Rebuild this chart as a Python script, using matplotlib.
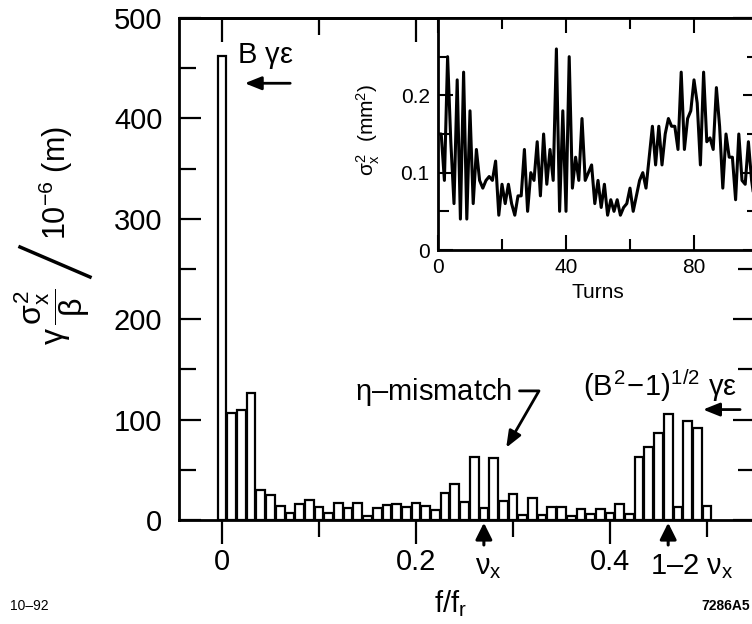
import matplotlib
matplotlib.use("Agg")
import matplotlib.pyplot as plt
from matplotlib.lines import Line2D

plt.rcParams['font.family'] = ['Liberation Sans', 'DejaVu Sans']
plt.rcParams['mathtext.fontset'] = 'custom'
plt.rcParams['mathtext.rm'] = 'Liberation Sans'
plt.rcParams['mathtext.it'] = 'Liberation Sans'
plt.rcParams['mathtext.bf'] = 'Liberation Sans:bold'

# spectrum bins (f/f_r) and heights
freq = [0.00, 0.01, 0.02, 0.03, 0.04, 0.05, 0.06, 0.07, 0.08, 0.09,
        0.10, 0.11, 0.12, 0.13, 0.14, 0.15, 0.16, 0.17, 0.18, 0.19,
        0.20, 0.21, 0.22, 0.23, 0.24, 0.25, 0.26, 0.27, 0.28, 0.29,
        0.30, 0.31, 0.32, 0.33, 0.34, 0.35, 0.36, 0.37, 0.38, 0.39,
        0.40, 0.41, 0.42, 0.43, 0.44, 0.45, 0.46, 0.47, 0.48, 0.49,
        0.50]
power = [462, 107, 110, 126, 30, 25, 14, 7, 16, 20,
         13, 7, 17, 12, 17, 4, 12, 15, 16, 13,
         17, 14, 10, 27, 36, 18, 63, 12, 62, 19,
         26, 5, 22, 5, 13, 13, 4, 11, 6, 11,
         7, 16, 6, 63, 73, 87, 106, 13, 99, 92,
         14]

nu_x = 0.27
one_minus_2nu = 0.46

x_ticks = [0, 0.2, 0.4]
x_ticklabels = ['0', '0.2', '0.4']
x_minor = [0.1, 0.3, 0.5]
y_ticks = [0, 100, 200, 300, 400, 500]
y_minor = [50, 150, 250, 350, 450]

# inset: beam size squared vs turn
turns = list(range(100))
sigma2 = [0.15, 0.15, 0.09, 0.25, 0.14, 0.06, 0.22, 0.04, 0.23, 0.04,
          0.18, 0.06, 0.13, 0.09, 0.08, 0.09, 0.095, 0.09, 0.115, 0.045,
          0.085, 0.06, 0.085, 0.06, 0.045, 0.07, 0.07, 0.13, 0.05, 0.10,
          0.09, 0.14, 0.07, 0.15, 0.085, 0.13, 0.09, 0.26, 0.05, 0.18,
          0.05, 0.25, 0.08, 0.12, 0.09, 0.17, 0.09, 0.10, 0.11, 0.06,
          0.09, 0.055, 0.085, 0.045, 0.065, 0.05, 0.065, 0.045, 0.055, 0.06,
          0.08, 0.05, 0.07, 0.09, 0.10, 0.08, 0.12, 0.16, 0.11, 0.16,
          0.11, 0.15, 0.17, 0.16, 0.16, 0.13, 0.23, 0.13, 0.17, 0.18,
          0.22, 0.19, 0.11, 0.23, 0.14, 0.145, 0.13, 0.21, 0.16, 0.08,
          0.15, 0.12, 0.12, 0.065, 0.15, 0.09, 0.085, 0.14, 0.09, 0.06]
in_x_ticks = [0, 40, 80]
in_x_ticklabels = ['0', '40', '80']
in_x_minor = [20, 60, 100]
in_y_ticks = [0, 0.1, 0.2]
in_y_ticklabels = ['0', '0.1', '0.2']
in_y_minor = [0.05, 0.15, 0.25]

W, H = 752, 624
fig = plt.figure(figsize=(W / 100, H / 100), dpi=100)


def px(x, y):
    return x / W, 1 - y / H


ax = fig.add_axes([179 / W, 104 / H, 576 / W, 502 / H])
ax.bar(freq, power, width=0.009, facecolor='white', edgecolor='black',
       linewidth=1.6)
ax.set_xlim(-0.0443, 0.5495)
ax.set_ylim(0, 500)
for s in ax.spines.values():
    s.set_linewidth(2.0)

ax.set_xticks(x_ticks)
ax.set_xticklabels(x_ticklabels)
ax.set_xticks(x_minor, minor=True)
ax.set_yticks(y_ticks)
ax.set_yticks(y_minor, minor=True)
ax.tick_params(axis='x', which='major', direction='out', length=17, width=1.6,
               labelsize=21, pad=3, top=False)
ax.tick_params(axis='x', which='minor', direction='out', length=12, width=1.6,
               top=False)
ax.tick_params(axis='y', which='major', direction='in', length=16, width=1.6,
               labelsize=21, pad=12, right=True)
ax.tick_params(axis='y', which='minor', direction='in', length=12, width=1.6,
               right=True)

top = ax.secondary_xaxis('top')
top.set_xticks(x_ticks)
top.set_xticklabels([])
top.set_xticks(x_minor, minor=True)
top.tick_params(which='major', direction='in', length=17, width=1.6)
top.tick_params(which='minor', direction='in', length=12, width=1.6)
top.spines['top'].set_linewidth(2.0)

fig.text(*px(450, 604), r'f/f$_r$', fontsize=21, ha='center', va='center')

# arrows marking the tune lines under the axis
for f in (nu_x, one_minus_2nu):
    ax.annotate('', xy=(f, 0), xytext=(0, -20), textcoords='offset points',
                annotation_clip=False,
                arrowprops=dict(arrowstyle='-|>,head_length=0.5,head_width=0.25',
                                mutation_scale=20, lw=2.2, color='black'))
fig.text(*px(475, 567), r'$\nu_x$', fontsize=21, ha='left', va='center')
fig.text(*px(650, 567), r'1–2 $\nu_x$', fontsize=21, ha='left', va='center')

# annotations
ax.text(0.045, 462, r'B $\gamma\varepsilon$', fontsize=21, ha='center',
        va='center')
ax.annotate('', xy=(0.0206, 435), xytext=(0.0732, 435),
            arrowprops=dict(arrowstyle='-|>,head_length=0.5,head_width=0.2',
                            mutation_scale=20, lw=2, color='black'))
ax.annotate(r'$\eta$–mismatch', xy=(0.293, 72), xytext=(0.2186, 127),
            fontsize=21, ha='center', va='center',
            arrowprops=dict(arrowstyle='-|>,head_length=0.5,head_width=0.2',
                            mutation_scale=20, lw=2, color='black',
                            relpos=(1, 0.55), shrinkA=3, shrinkB=0,
                            connectionstyle='angle,angleA=0,angleB=60,rad=0'))
ax.text(0.452, 134, r'$(B^2\!-\!1)^{1/2}\ \gamma\varepsilon$', fontsize=21,
        ha='center', va='center')
ax.annotate('', xy=(0.493, 110), xytext=(0.537, 110),
            arrowprops=dict(arrowstyle='-|>,head_length=0.5,head_width=0.2',
                            mutation_scale=20, lw=2, color='black'))

# y label in pieces
fig.text(*px(52, 317), r'$\gamma\,\dfrac{\sigma_x^2}{\beta}$', fontsize=23,
         rotation=90, ha='center', va='center')
fig.add_artist(Line2D([20 / W, 90 / W], [1 - 247 / H, 1 - 277 / H],
                      transform=fig.transFigure, lw=2.5, color='black'))
fig.text(*px(56, 183), r'$10^{-6}$ (m)', fontsize=22, rotation=90,
         ha='center', va='center')

fig.text(*px(10, 606), '10–92', fontsize=10, ha='left', va='center')
fig.text(*px(750, 606), '7286A5', fontsize=10, fontweight='bold', ha='right',
         va='center')

# inset
axi = fig.add_axes([438 / W, 374 / H, 320 / W, 232 / H])
axi.plot(turns, sigma2, color='black', lw=2.2)
axi.set_xlim(0, 100)
axi.set_ylim(0, 0.3)
for s in axi.spines.values():
    s.set_linewidth(2.0)
axi.set_xticks(in_x_ticks)
axi.set_xticklabels(in_x_ticklabels)
axi.set_xticks(in_x_minor, minor=True)
axi.set_yticks(in_y_ticks)
axi.set_yticklabels(in_y_ticklabels)
axi.set_yticks(in_y_minor, minor=True)
axi.tick_params(which='major', direction='in', length=11, width=1.5,
                labelsize=15, pad=6, top=True, right=True)
axi.tick_params(which='minor', direction='in', length=8, width=1.5,
                top=True, right=True)
axi.set_xlabel('Turns', fontsize=15, labelpad=4)
fig.text(*px(368, 130), r'$\sigma_x^2$  (mm$^2$)', fontsize=15, rotation=90,
         ha='center', va='center')

fig.savefig('out.png', dpi=100)
